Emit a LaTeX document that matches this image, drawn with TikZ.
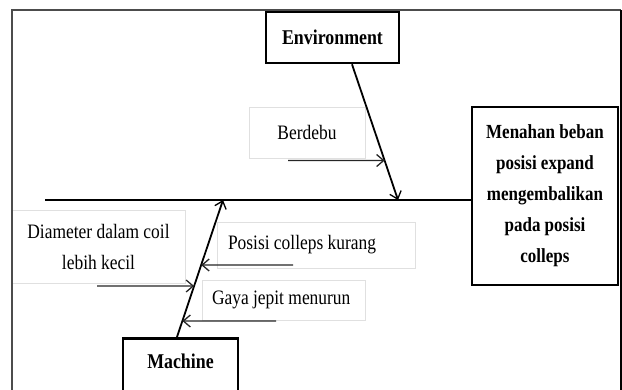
\documentclass[tikz,border=0pt]{standalone}
\usepackage{fontspec}
\setmainfont[FakeStretch=0.85]{Liberation Serif}
\usetikzlibrary{arrows.meta,calc}
\begin{document}
\begin{tikzpicture}[x=1pt,y=-1pt,
  tip/.style={-{Straight Barb[length=7pt,width=12pt,line width=1.3pt]}},
  catbox/.style={draw=black,line width=2.6pt,fill=white,font=\fontsize{21}{22}\selectfont\bfseries,inner sep=0pt},
  effbox/.style={draw=black,line width=2.6pt,fill=white,font=\fontsize{20}{31}\selectfont\bfseries,inner sep=0pt,align=center},
  lblbox/.style={draw=black!12,line width=0.8pt,inner sep=0pt,font=\fontsize{20.5}{31}\selectfont},
  bone/.style={line width=1.8pt,black},
  twig/.style={line width=1.4pt,black!85}]
\useasboundingbox (0,0) rectangle (622,389);
\fill[white] (0,0) rectangle (622,389);
\begin{scope}
\clip (0,0) rectangle (622,389);
% faint label boxes
\node[lblbox, minimum width=116, minimum height=51, align=center] (berdebu) at (307,132.5) {Berdebu};
\node[lblbox, minimum width=173, minimum height=73, align=center] (diam) at (98.5,246.5) {Diameter dalam coil\\lebih kecil};
\node[lblbox, minimum width=198, minimum height=46] (posisi) at (316,245) {\makebox[176pt][l]{Posisi colleps kurang}};
\node[lblbox, minimum width=163, minimum height=40] (gaya) at (283.5,300) {\makebox[143pt][l]{Gaya jepit menurun}};
% frame
\draw[line width=2pt, black!70] (12,400) -- (12,10) -- (621,10);
\draw[line width=1.2pt, black] (621,10) -- (621,400);
% category and effect boxes
\node[catbox, minimum width=133, minimum height=51] (env) at (332.5,37.5) {Environment};
\node[catbox, minimum width=115, minimum height=60, anchor=north, text depth=14pt] (mach) at (180.5,337) {Machine};
\node[effbox, minimum width=146, minimum height=178] (eff) at (545,196) {Menahan beban\\posisi expand\\mengembalikan\\pada posisi\\colleps};
% spine and bones
\coordinate (spL) at (45,200);
\coordinate (e1) at ($(env.south)+(19.5,0)$);
\coordinate (e2) at (398,200);
\coordinate (m1) at ($(mach.north)+(-3.5,0)$);
\coordinate (m2) at (223,200);
\draw[bone] (spL) -- (spL -| eff.west);
\draw[bone,tip] (e1) -- (e2);
\draw[bone,tip] (m1) -- (m2);
% twigs
\coordinate (b0) at (288,160.5); \coordinate (bx) at (600,160.5);
\draw[twig,tip] (b0) -- (intersection of e1--e2 and b0--bx);
\coordinate (d0) at (97,286); \coordinate (dx) at (600,286);
\draw[twig,tip] (d0) -- (intersection of m1--m2 and d0--dx);
\coordinate (p0) at (293,265); \coordinate (px) at (0,265);
\draw[twig,tip] (p0) -- (intersection of m1--m2 and p0--px);
\coordinate (g0) at (276,321); \coordinate (gx) at (0,321);
\draw[twig,tip] (g0) -- (intersection of m1--m2 and g0--gx);
\end{scope}
\end{tikzpicture}
\end{document}
